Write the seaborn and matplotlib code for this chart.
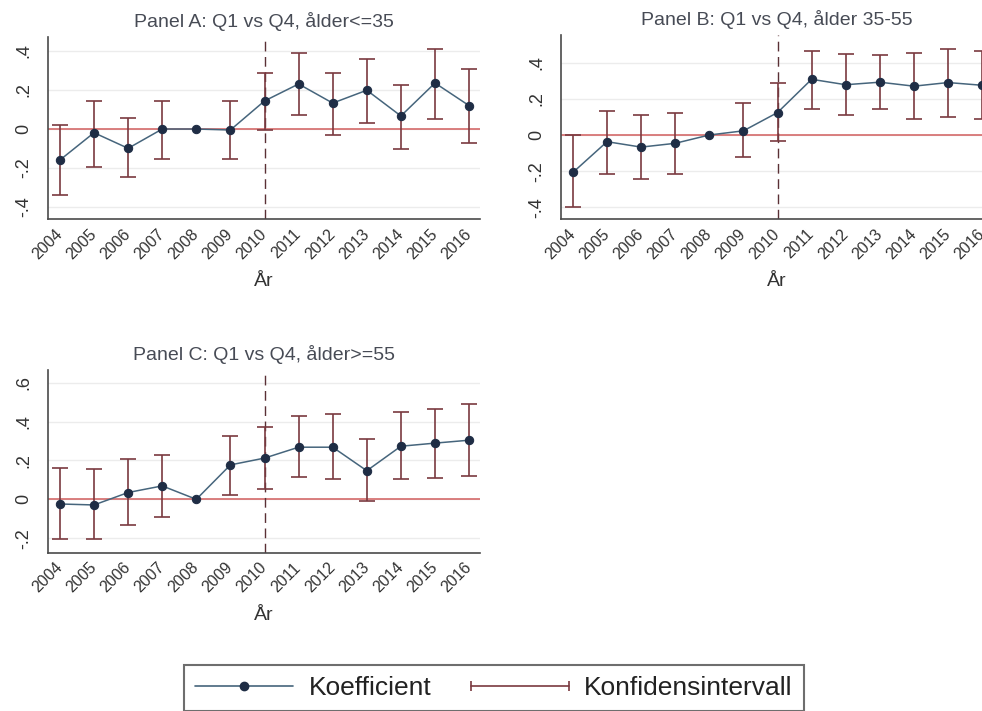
import numpy as np
import pandas as pd
import matplotlib
matplotlib.use("Agg")
import matplotlib.pyplot as plt
import seaborn as sns
from matplotlib.lines import Line2D
from matplotlib.legend_handler import HandlerLine2D

# ---- data -------------------------------------------------------------
years = [2004, 2005, 2006, 2007, 2008, 2009, 2010, 2011, 2012, 2013, 2014, 2015, 2016]
year_labels = [str(y) for y in years]
reform_year = 2010

# Panel A: age <= 35 (2008 is the reference year, no interval)
coef_a = [-0.159, -0.019, -0.099, 0.000, 0.000, -0.005, 0.144, 0.231, 0.133, 0.199, 0.067, 0.236, 0.120]
lo_a = [-0.338, -0.193, -0.244, -0.154, np.nan, -0.154, -0.005, 0.072, -0.031, 0.030, -0.103, 0.053, -0.074]
hi_a = [0.022, 0.145, 0.055, 0.145, np.nan, 0.145, 0.289, 0.391, 0.289, 0.361, 0.226, 0.411, 0.308]

# Panel B: age 35-55
coef_b = [-0.207, -0.037, -0.067, -0.046, 0.000, 0.023, 0.124, 0.308, 0.278, 0.292, 0.270, 0.290, 0.275]
lo_b = [-0.399, -0.213, -0.246, -0.213, np.nan, -0.120, -0.034, 0.144, 0.110, 0.144, 0.090, 0.100, 0.090]
hi_b = [0.000, 0.135, 0.111, 0.120, np.nan, 0.177, 0.290, 0.466, 0.446, 0.444, 0.456, 0.477, 0.466]

# Panel C: age >= 55
coef_c = [-0.024, -0.029, 0.035, 0.069, 0.000, 0.177, 0.212, 0.268, 0.268, 0.147, 0.273, 0.289, 0.304]
lo_c = [-0.205, -0.205, -0.134, -0.092, np.nan, 0.021, 0.052, 0.113, 0.103, -0.008, 0.102, 0.112, 0.121]
hi_c = [0.163, 0.155, 0.206, 0.226, np.nan, 0.327, 0.370, 0.431, 0.441, 0.308, 0.450, 0.462, 0.492]

titles = ["Panel A: Q1 vs Q4, ålder<=35",
          "Panel B: Q1 vs Q4, ålder 35-55",
          "Panel C: Q1 vs Q4, ålder>=55"]
yticks_ab = [-0.4, -0.2, 0.0, 0.2, 0.4]
ylabels_ab = ["-.4", "-.2", "0", ".2", ".4"]
yticks_c = [-0.2, 0.0, 0.2, 0.4, 0.6]
ylabels_c = ["-.2", "0", ".2", ".4", ".6"]
xlabel = "År"
legend_labels = ["Koefficient", "Konfidensintervall"]

# ---- style ------------------------------------------------------------
sns.set_style("white")
plt.rcParams["font.family"] = ["Liberation Sans", "DejaVu Sans"]

LINE = "#46657c"
MARK = "#1f2d45"
CI = "#7a3a40"
ZERO = "#d46a6a"
DASH = "#5a3035"
GRID = "#ececec"
SPINE = "#4a4a4a"
TEXT = "#333333"
TITLE = "#474b55"

fig = plt.figure(figsize=(9.82, 7.11), dpi=100)
W, H = 982.0, 711.0


def axes_px(left, top, right, bottom):
    return fig.add_axes([left / W, 1 - bottom / H, (right - left) / W, (bottom - top) / H])


ax_a = axes_px(48, 37, 480, 219)
ax_b = axes_px(561, 35, 993, 219)
ax_c = axes_px(48, 370, 480, 552.7)


def draw_panel(ax, title, coef, lo, hi, yticks, ylabels, ylim):
    df = pd.DataFrame({"year": years, "coef": coef, "lo": lo, "hi": hi})
    for yv in yticks:
        ax.axhline(yv, color=GRID, lw=1, zorder=0)
    ax.axhline(0, color=ZERO, lw=1.2, zorder=1)
    ax.axvline(reform_year, color=DASH, lw=1.0, ls=(0, (7, 4)), zorder=1)

    ci = df.dropna()
    ax.errorbar(ci["year"], ci["coef"],
                yerr=[ci["coef"] - ci["lo"], ci["hi"] - ci["coef"]],
                fmt="none", ecolor=CI, elinewidth=1.2, capsize=5.5, capthick=1.2, zorder=2)

    sns.lineplot(data=df, x="year", y="coef", ax=ax, color=LINE, lw=1.1,
                 marker="o", markersize=6, markerfacecolor=MARK, markeredgecolor=MARK,
                 zorder=3)

    ax.set_xlim(2003.65, 2016.32)
    ax.set_ylim(*ylim)
    ax.set_xticks(years)
    ax.set_xticklabels(year_labels, rotation=45, ha="right", va="center",
                       rotation_mode="anchor")
    ax.set_yticks(yticks)
    ax.set_yticklabels(ylabels, rotation=90, va="center")
    ax.tick_params(axis="both", direction="out", length=5, width=1, color=SPINE,
                   labelcolor=TEXT)
    ax.tick_params(axis="x", pad=4, labelsize=11.5)
    ax.tick_params(axis="y", pad=6, labelsize=13)
    for s in ["top", "right"]:
        ax.spines[s].set_visible(False)
    for s in ["left", "bottom"]:
        ax.spines[s].set_color(SPINE)
        ax.spines[s].set_linewidth(1.2)
    ax.set_title(title, fontsize=14, color=TITLE, pad=7)
    ax.set_xlabel(xlabel, fontsize=14, color=TEXT, labelpad=8)
    ax.set_ylabel("")


draw_panel(ax_a, titles[0], coef_a, lo_a, hi_a, yticks_ab, ylabels_ab, (-0.4615, 0.472))
draw_panel(ax_b, titles[1], coef_b, lo_b, hi_b, yticks_ab, ylabels_ab, (-0.4646, 0.553))
draw_panel(ax_c, titles[2], coef_c, lo_c, hi_c, yticks_c, ylabels_c, (-0.2745, 0.665))

# ---- shared legend ----------------------------------------------------
coef_handle = Line2D([], [], color=LINE, lw=1.2, marker="o", markersize=6,
                     markerfacecolor=MARK, markeredgecolor=MARK)
ci_handle = Line2D([], [], color=CI, lw=1.2, marker="|", markersize=7, markeredgewidth=1.2)
leg = fig.legend(handles=[coef_handle, ci_handle], labels=legend_labels,
                 loc="upper left", bbox_to_anchor=(184 / W, 1 - 665 / H),
                 ncol=2, frameon=True, fancybox=False, fontsize=19,
                 handlelength=3.7, handletextpad=0.6, columnspacing=1.5,
                 borderpad=0.42, borderaxespad=0, edgecolor=SPINE,
                 handler_map={coef_handle: HandlerLine2D(numpoints=1),
                              ci_handle: HandlerLine2D(numpoints=2, marker_pad=0)})
leg.get_frame().set_linewidth(1.5)
for t in leg.get_texts():
    t.set_color("#222222")

fig.savefig("out.png", dpi=100)
